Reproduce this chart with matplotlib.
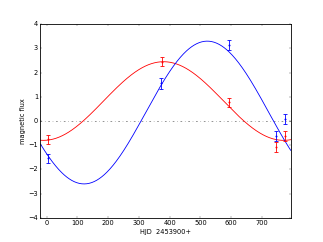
import numpy as np
import matplotlib
matplotlib.use("Agg")
import matplotlib.pyplot as plt

plt.style.use('classic')

# observations (HJD - 2453900, magnetic flux, error)
red_x = [4, 376, 592, 745, 776]
red_y = [-0.76, 2.45, 0.77, -1.08, -0.63]
red_err = [0.19, 0.19, 0.2, 0.22, 0.21]

blue_x = [4, 372, 592, 745, 776]
blue_y = [-1.54, 1.55, 3.13, -0.63, 0.08]
blue_err = [0.19, 0.22, 0.2, 0.2, 0.21]

# sinusoidal fits: offset, amplitude, phase centre, period
red_fit = [0.825, 1.625, 380, 780]
blue_fit = [0.35, 2.95, 522, 800]

xlim = (-20, 793)


def fit_curve(p, x):
    off, amp, x0, per = p
    return off + amp * np.cos(2 * np.pi * (x - x0) / per)


fig = plt.figure(figsize=(323 / 40, 242 / 40), dpi=40)
ax = fig.add_subplot(111)

xx = np.linspace(xlim[0], xlim[1], 400)
ax.axhline(0, color='0.5', linestyle='-.', linewidth=1.5)
ax.plot(xx, fit_curve(red_fit, xx), color='r', linewidth=1.5)
ax.plot(xx, fit_curve(blue_fit, xx), color='b', linewidth=1.5)
ax.errorbar(red_x, red_y, yerr=red_err, fmt='.', color='r', ms=4,
            capsize=3, elinewidth=1.5, mew=1.5)
ax.errorbar(blue_x, blue_y, yerr=blue_err, fmt='.', color='b', ms=4,
            capsize=3, elinewidth=1.5, mew=1.5)

ax.set_xlim(*xlim)
ax.set_ylim(-4, 4)
ax.set_xticks(range(0, 800, 100))
ax.set_yticks(range(-4, 5))
ax.set_xlabel('HJD  2453900+')
ax.set_ylabel('magnetic flux')
for s in ax.spines.values():
    s.set_linewidth(1.5)

fig.savefig('out.png', dpi=40)
